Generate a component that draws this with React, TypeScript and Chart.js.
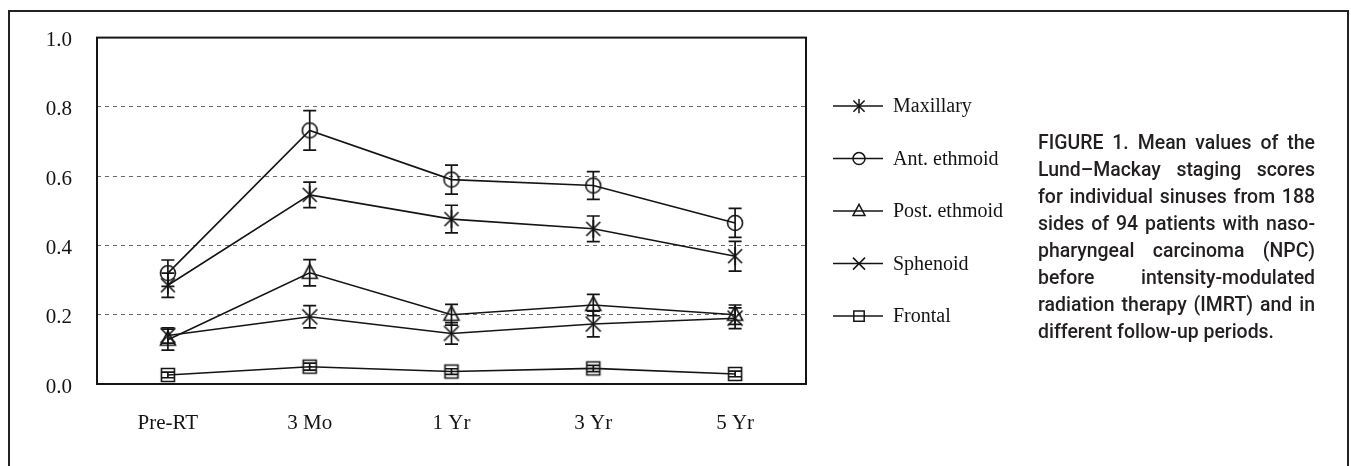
import React, { useEffect, useLayoutEffect, useRef, useState } from 'react';
import { Chart, registerables } from 'chart.js';

Chart.register(...registerables);

// ---------- data ----------
const periods = ['Pre-RT', '3 Mo', '1 Yr', '3 Yr', '5 Yr'];
const yTickValues = [0, 0.2, 0.4, 0.6, 0.8, 1.0];

const seriesNames = ['Maxillary', 'Ant. ethmoid', 'Post. ethmoid', 'Sphenoid', 'Frontal'];
const seriesMarkers = ['asterisk', 'circle', 'triangle', 'cross', 'square'];

const maxillary = [0.285, 0.546, 0.476, 0.448, 0.369];
const maxillaryErr = [0.035, 0.037, 0.04, 0.037, 0.043];

const antEthmoid = [0.32, 0.732, 0.59, 0.573, 0.465];
const antEthmoidErr = [0.038, 0.057, 0.042, 0.04, 0.042];

const postEthmoid = [0.128, 0.321, 0.2, 0.228, 0.2];
const postEthmoidErr = [0.03, 0.038, 0.03, 0.031, 0.028];

const sphenoid = [0.14, 0.194, 0.146, 0.173, 0.19];
const sphenoidErr = [0.022, 0.032, 0.031, 0.037, 0.03];

const frontal = [0.026, 0.05, 0.036, 0.045, 0.029];
const frontalErr = [0.008, 0.01, 0.008, 0.009, 0.008];

const seriesValues = [maxillary, antEthmoid, postEthmoid, sphenoid, frontal];
const seriesErrors = [maxillaryErr, antEthmoidErr, postEthmoidErr, sphenoidErr, frontalErr];

const captionLines = [
  'FIGURE 1. Mean values of the',
  'Lund\u2013Mackay staging scores',
  'for individual sinuses from 188',
  'sides of 94 patients with naso-',
  'pharyngeal carcinoma (NPC)',
  'before intensity-modulated',
  'radiation therapy (IMRT) and in',
  'different follow-up periods.',
];

// ---------- marker drawing ----------
const INK = '#141414';
const SERIF = '"Liberation Serif", "DejaVu Serif", serif';

function drawMarker(ctx: CanvasRenderingContext2D, kind: string, cx: number, cy: number, s: number) {
  ctx.beginPath();
  if (kind === 'circle') {
    ctx.arc(cx, cy, 7.5 * s, 0, Math.PI * 2);
  } else if (kind === 'triangle') {
    ctx.moveTo(cx, cy - 8.5 * s);
    ctx.lineTo(cx + 7.5 * s, cy + 5.5 * s);
    ctx.lineTo(cx - 7.5 * s, cy + 5.5 * s);
    ctx.closePath();
  } else if (kind === 'square') {
    ctx.rect(cx - 6.5 * s, cy - 6.5 * s, 13 * s, 13 * s);
  } else if (kind === 'asterisk') {
    const d = 7 * s;
    ctx.moveTo(cx - d, cy - d);
    ctx.lineTo(cx + d, cy + d);
    ctx.moveTo(cx + d, cy - d);
    ctx.lineTo(cx - d, cy + d);
    ctx.moveTo(cx, cy - 9 * s);
    ctx.lineTo(cx, cy + 9 * s);
  } else if (kind === 'cross') {
    const d = 7.5 * s;
    ctx.moveTo(cx - d, cy - d);
    ctx.lineTo(cx + d, cy + d);
    ctx.moveTo(cx + d, cy - d);
    ctx.lineTo(cx - d, cy + d);
  }
  ctx.stroke();
}

function makeMarkerImage(kind: string): HTMLCanvasElement {
  const c = document.createElement('canvas');
  c.width = 26;
  c.height = 26;
  const ctx = c.getContext('2d') as CanvasRenderingContext2D;
  ctx.strokeStyle = INK;
  ctx.lineWidth = 1.6;
  drawMarker(ctx, kind, 13, 13, 1);
  return c;
}

// ---------- plugins ----------
const errorBarPlugin = {
  id: 'errorBars',
  afterDatasetsDraw(chart: any) {
    const { ctx } = chart;
    const yScale = chart.scales.y;
    chart.data.datasets.forEach((ds: any, i: number) => {
      const meta = chart.getDatasetMeta(i);
      meta.data.forEach((pt: any, j: number) => {
        const v = ds.data[j];
        const e = ds.errors[j];
        const yTop = yScale.getPixelForValue(v + e);
        const yBot = yScale.getPixelForValue(v - e);
        const x = pt.x;
        ctx.save();
        ctx.strokeStyle = INK;
        ctx.lineWidth = 1.7;
        ctx.beginPath();
        ctx.moveTo(x, yTop);
        ctx.lineTo(x, yBot);
        ctx.moveTo(x - 6.5, yTop);
        ctx.lineTo(x + 6.5, yTop);
        ctx.moveTo(x - 6.5, yBot);
        ctx.lineTo(x + 6.5, yBot);
        ctx.stroke();
        ctx.restore();
      });
    });
  },
};

const frameAndLegendPlugin = {
  id: 'frameAndLegend',
  afterDraw(chart: any) {
    const { ctx, chartArea } = chart;
    ctx.save();
    ctx.strokeStyle = INK;
    ctx.lineWidth = 2;
    ctx.strokeRect(chartArea.left, chartArea.top, chartArea.right - chartArea.left, chartArea.bottom - chartArea.top);

    const x0 = chartArea.right + 27;
    chart.data.datasets.forEach((ds: any, i: number) => {
      const y = chartArea.top + 68.5 + i * 52.5;
      ctx.strokeStyle = INK;
      ctx.lineWidth = 1.5;
      ctx.beginPath();
      ctx.moveTo(x0, y);
      ctx.lineTo(x0 + 50, y);
      ctx.stroke();
      drawMarker(ctx, ds.markerKind, x0 + 26, y, 0.8);
      ctx.fillStyle = INK;
      ctx.font = '20px ' + SERIF;
      ctx.textBaseline = 'middle';
      ctx.textAlign = 'left';
      ctx.fillText(ds.label, x0 + 60, y + 1);
    });
    ctx.restore();
  },
};

// ---------- component ----------
export default function App() {
  const canvasRef = useRef<HTMLCanvasElement | null>(null);
  const lastLineRef = useRef<HTMLSpanElement | null>(null);
  const [scaleX, setScaleX] = useState(1);

  useLayoutEffect(() => {
    if (lastLineRef.current) {
      const w = lastLineRef.current.getBoundingClientRect().width;
      if (w > 0) setScaleX(236 / w);
    }
  }, []);

  useEffect(() => {
    if (!canvasRef.current) return;
    const datasets = seriesNames.map((name, i) => ({
      label: name,
      data: seriesValues[i],
      errors: seriesErrors[i],
      markerKind: seriesMarkers[i],
      borderColor: INK,
      backgroundColor: 'rgba(0,0,0,0)',
      borderWidth: 1.6,
      tension: 0,
      pointStyle: makeMarkerImage(seriesMarkers[i]),
      pointRadius: 7,
      fill: false,
    }));

    const chart = new Chart(canvasRef.current, {
      type: 'line',
      data: { labels: periods, datasets: datasets as any },
      plugins: [errorBarPlugin, frameAndLegendPlugin],
      options: {
        animation: false,
        responsive: false,
        events: [],
        layout: { padding: { left: 0, right: 545, top: 37, bottom: 0 } },
        plugins: {
          legend: { display: false },
          tooltip: { enabled: false },
          title: { display: false },
        },
        scales: {
          x: {
            type: 'category',
            offset: true,
            grid: { display: false, drawTicks: false },
            border: { display: false },
            ticks: {
              color: INK,
              padding: 27,
              font: { family: SERIF, size: 21 },
            },
            afterFit: (scale: any) => {
              scale.height = 82;
            },
          },
          y: {
            min: 0,
            max: 1,
            afterBuildTicks: (scale: any) => {
              scale.ticks = yTickValues.map((v) => ({ value: v }));
            },
            ticks: {
              color: INK,
              padding: 25,
              labelOffset: 3,
              font: { family: SERIF, size: 21 },
              callback: (v: any) => Number(v).toFixed(1),
            },
            grid: {
              drawTicks: false,
              lineWidth: 1,
              color: (c: any) => (c.tick && (c.tick.value <= 0.001 || c.tick.value >= 0.999) ? 'rgba(0,0,0,0)' : '#6a6a6a'),
            },
            border: { display: false, dash: [4, 4] },
            afterFit: (scale: any) => {
              scale.width = 97;
            },
          },
        },
      } as any,
    });
    return () => chart.destroy();
  }, []);

  return (
    <div>
      <div
        style={{
          position: 'absolute',
          left: 8,
          top: 10,
          width: 1341,
          height: 470,
          boxSizing: 'border-box',
          border: '2px solid #222',
        }}
      />
      <canvas
        ref={canvasRef}
        width={1351}
        height={466}
        style={{ position: 'absolute', left: 0, top: 0, width: 1351, height: 466, display: 'block' }}
      />
      <div
        style={{
          position: 'absolute',
          left: 1038,
          top: 129,
          width: 277 / scaleX,
          transform: `scaleX(${scaleX})`,
          transformOrigin: 'left top',
          fontFamily: '"Roboto", "Liberation Sans", sans-serif',
          fontWeight: 500,
          fontSize: 20,
          lineHeight: '27px',
          color: '#231f20',
        }}
      >
        {captionLines.map((line, i) => {
          const last = i === captionLines.length - 1;
          return (
            <div
              key={i}
              style={{
                textAlign: last ? 'left' : 'justify',
                textAlignLast: last ? 'left' : 'justify',
                whiteSpace: 'nowrap',
              } as any}
            >
              {last ? <span ref={lastLineRef}>{line}</span> : line}
            </div>
          );
        })}
      </div>
    </div>
  );
}
